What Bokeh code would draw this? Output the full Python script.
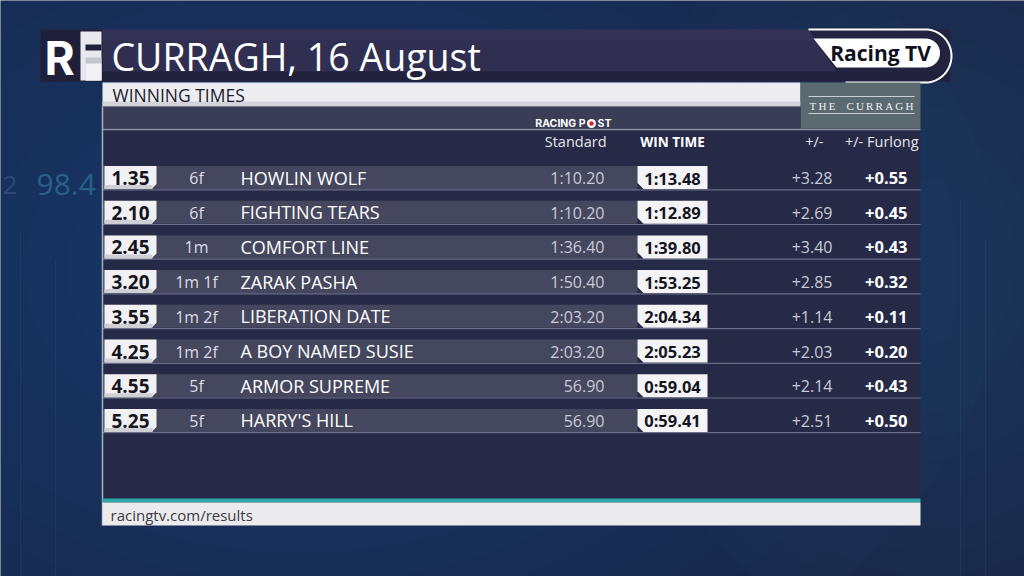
import numpy as np
from bokeh.plotting import figure
from bokeh.models import Range1d
from bokeh.core.properties import value
from bokeh.embed import file_html
from bokeh.resources import INLINE

# ---------------- data ----------------
race_times = ["1.35", "2.10", "2.45", "3.20", "3.55", "4.25", "4.55", "5.25"]
distances = ["6f", "6f", "1m", "1m 1f", "1m 2f", "1m 2f", "5f", "5f"]
horses = ["HOWLIN WOLF", "FIGHTING TEARS", "COMFORT LINE", "ZARAK PASHA",
          "LIBERATION DATE", "A BOY NAMED SUSIE", "ARMOR SUPREME", "HARRY'S HILL"]
standard_times = ["1:10.20", "1:10.20", "1:36.40", "1:50.40", "2:03.20", "2:03.20", "56.90", "56.90"]
win_times = ["1:13.48", "1:12.89", "1:39.80", "1:53.25", "2:04.34", "2:05.23", "0:59.04", "0:59.41"]
plus_minus = ["+3.28", "+2.69", "+3.40", "+2.85", "+1.14", "+2.03", "+2.14", "+2.51"]
plus_minus_furlong = ["+0.55", "+0.45", "+0.43", "+0.32", "+0.11", "+0.20", "+0.43", "+0.50"]
title = "CURRAGH, 16 August"
subtitle = "WINNING TIMES"
col_headers = ["Standard", "WIN TIME", "+/-", "+/- Furlong"]
footer = "racingtv.com/results"
venue = "THE CURRAGH"

FONT = value("Open Sans")
W, H = 1024, 576

# ---------------- figure (coordinates = page pixels) ----------------
p = figure(width=W, height=H, output_backend="svg", toolbar_location=None,
           x_range=Range1d(0, W), y_range=Range1d(H, 0),
           min_border=0, background_fill_color="#172645", border_fill_color="#172645")
p.axis.visible = False
p.grid.visible = False
p.outline_line_color = None

# background glow (many soft layers)
for r in np.linspace(1400, 300, 14):
    p.ellipse(x=[300], y=[270], width=r, height=r * 0.7, fill_color="#2b4d86",
              fill_alpha=0.05, line_color=None)
    p.ellipse(x=[930], y=[260], width=r * 0.45, height=r * 0.55, fill_color="#2b4d86",
              fill_alpha=0.04, line_color=None)
p.text(x=[36], y=[184], text=["98.4"], text_font=FONT, text_font_size="30px",
       text_color="#3f9ec0", text_alpha=0.45, text_baseline="middle")
p.text(x=[2], y=[184], text=["2"], text_font=FONT, text_font_size="26px",
       text_color="#6d86b0", text_alpha=0.3, text_baseline="middle")
p.segment(x0=[20, 55, 960, 985], y0=[230, 260, 200, 240], x1=[20, 55, 960, 985], y1=[576, 576, 576, 576],
          line_color="#4a6a9a", line_alpha=0.15, line_width=1)

# ---------------- title bar ----------------
p.quad(left=[40], right=[835], top=[29], bottom=[80], fill_color="#302f52", line_color=None)
p.quad(left=[100], right=[835], top=[29], bottom=[40], fill_color="#37365a", fill_alpha=0.6, line_color=None)
p.patch(x=[808, 836, 950, 950], y=[29, 71, 71, 29], fill_color="#24233f", line_color=None)
p.quad(left=[40], right=[950], top=[71], bottom=[81], fill_color="#22213b", line_color=None)
p.quad(left=[40], right=[102], top=[29], bottom=[81], fill_color="#1f1f39", line_color=None)
# RF logo
p.text(x=[44], y=[57], text=["R"], text_font=value("Inter"), text_font_size="46px",
       text_font_style="bold", text_color="white", text_baseline="middle")
p.quad(left=[80], right=[101], top=[31], bottom=[80], fill_color="#e8e8ee", line_color=None)
p.quad(left=[85], right=[101], top=[44], bottom=[50], fill_color="#1f1f39", line_color=None)
p.quad(left=[85], right=[101], top=[57], bottom=[80], fill_color="#c4c4ce", line_color=None)
p.quad(left=[85], right=[101], top=[63], bottom=[80], fill_color="#f2f2f6", line_color=None)
p.text(x=[111], y=[56], text=[title], text_font=FONT, text_font_size="37.5px",
       text_color="white", text_baseline="middle")

# Racing TV logo
t = np.linspace(-np.pi / 2, np.pi / 2, 40)
p.patch(x=[813] + list(925 + 14.5 * np.cos(t)) + [836],
        y=[38] + list(52.5 + 14.5 * np.sin(t)) + [67],
        fill_color="white", line_color=None)
p.line(x=[808] + list(925 + 26 * np.cos(t)) + [845],
       y=[29] + list(55.5 + 26.5 * np.sin(t)) + [82],
       line_color="white", line_width=2)
p.text(x=[880], y=[52], text=["Racing TV"], text_font=FONT, text_font_size="21px",
       text_font_style="bold", text_color="#111122", text_align="center", text_baseline="middle")

# ---------------- panel ----------------
p.quad(left=[102], right=[920], top=[106], bottom=[525], fill_color="#262a47", line_color=None)
p.quad(left=[102], right=[800], top=[82], bottom=[106], fill_color="#ededf1", line_color=None)
p.quad(left=[102], right=[800], top=[101], bottom=[106], fill_color="#d2d2da", line_color=None)
p.text(x=[112], y=[94], text=[subtitle], text_font=FONT, text_font_size="17.5px",
       text_color="#1b1b2c", text_baseline="middle")
# The Curragh box
p.quad(left=[800], right=[920], top=[82], bottom=[128], fill_color="#5b6a71", line_color=None)
p.segment(x0=[808, 808], y0=[96, 113], x1=[914, 914], y1=[96, 113], line_color="#c9d0d4", line_width=1)
p.text(x=[861], y=[105], text=["\u2009".join("THE") + "\u2003" + "\u2009".join("CURRAGH")],
       text_font=value("Liberation Serif"), text_font_size="11px", text_color="#eef2f4",
       text_align="center", text_baseline="middle")
# header band
p.quad(left=[102], right=[800], top=[106], bottom=[128], fill_color="#3b3d57", line_color=None)
p.segment(x0=[102], y0=[129], x1=[920], y1=[129], line_color="#8e92a6", line_width=1.5)
p.text(x=[585], y=[123], text=["RACING P"], text_font=value("Inter"), text_font_size="10.5px",
       text_font_style="bold", text_color="white", text_align="right", text_baseline="middle")
p.text(x=[597], y=[123], text=["ST"], text_font=value("Inter"), text_font_size="10.5px",
       text_font_style="bold", text_color="white", text_baseline="middle")
p.scatter(x=[591], y=[123], size=9, marker="circle", fill_color="white", line_color=None)
p.scatter(x=[591], y=[123], size=4.5, marker="circle", fill_color="#e0202a", line_color=None)

# column headers
p.text(x=[606], y=[141], text=[col_headers[0]], text_font=FONT, text_font_size="14.5px",
       text_color="#e6e6ee", text_align="right", text_baseline="middle")
p.text(x=[672], y=[141], text=[col_headers[1]], text_font=FONT, text_font_size="13.5px",
       text_font_style="bold", text_color="white", text_align="center", text_baseline="middle")
p.text(x=[823, 918], y=[141, 141], text=col_headers[2:], text_font=FONT, text_font_size="14.5px",
       text_color="#e6e6ee", text_align="right", text_baseline="middle")

# ---------------- rows ----------------
n = len(horses)
yc = 177 + 34.7 * np.arange(n)
h = 11.5
p.quad(left=[102] * n, right=[637] * n, top=yc - h, bottom=yc + h,
       fill_color="#45475e", line_color=None)
p.segment(x0=[102] * n, y0=yc + h + 0.8, x1=[920] * n, y1=yc + h + 0.8,
          line_color="#6b6f88", line_width=1.2)
# race time boxes (chamfer bottom-right)
bx, by = [], []
for c in yc:
    bx.append([104, 156, 156, 151, 104])
    by.append([c - h, c - h, c + h - 5, c + h, c + h])
p.patches(xs=bx, ys=by, fill_color="#f1f1f3", line_color=None)
p.quad(left=[104] * n, right=[152] * n, top=yc + h - 4, bottom=yc + h,
       fill_color="#cfcfd6", line_color=None)
# win time boxes (chamfer bottom-left)
wx, wy = [], []
for c in yc:
    wx.append([637, 707, 707, 643, 637])
    wy.append([c - h, c - h, c + h, c + h, c + h - 6])
p.patches(xs=wx, ys=wy, fill_color="#f4f4f6", line_color=None)

p.text(x=[130] * n, y=yc + 0.5, text=race_times, text_font=FONT, text_font_size="19px",
       text_font_style="bold", text_color="#15151f", text_align="center", text_baseline="middle")
p.text(x=[196] * n, y=yc + 0.5, text=distances, text_font=FONT, text_font_size="16px",
       text_color="#dcdce6", text_align="center", text_baseline="middle")
p.text(x=[240] * n, y=yc, text=horses, text_font=FONT, text_font_size="18px",
       text_color="white", text_baseline="middle")
p.text(x=[604] * n, y=yc + 0.5, text=standard_times, text_font=FONT, text_font_size="16px",
       text_color="#c9cad6", text_align="right", text_baseline="middle")
p.text(x=[672] * n, y=yc + 0.5, text=win_times, text_font=FONT, text_font_size="16.5px",
       text_font_style="bold", text_color="#15151f", text_align="center", text_baseline="middle")
p.text(x=[832] * n, y=yc + 0.5, text=plus_minus, text_font=FONT, text_font_size="16px",
       text_color="#c9cad6", text_align="right", text_baseline="middle")
p.text(x=[907] * n, y=yc + 0.5, text=plus_minus_furlong, text_font=FONT, text_font_size="16.5px",
       text_font_style="bold", text_color="white", text_align="right", text_baseline="middle")

# ---------------- footer ----------------
p.segment(x0=[102], y0=[106], x1=[102], y1=[525], line_color="#a9afc0", line_width=1.5)
p.quad(left=[102], right=[920], top=[498], bottom=[502], fill_color="#2aa6a6", line_color=None)
p.quad(left=[102], right=[920], top=[502], bottom=[525], fill_color="#ebebee", line_color=None)
p.text(x=[110], y=[514], text=[footer], text_font=FONT, text_font_size="15px",
       text_color="#3a3a44", text_baseline="middle")

open("out.html", "w").write(file_html(p, INLINE))
